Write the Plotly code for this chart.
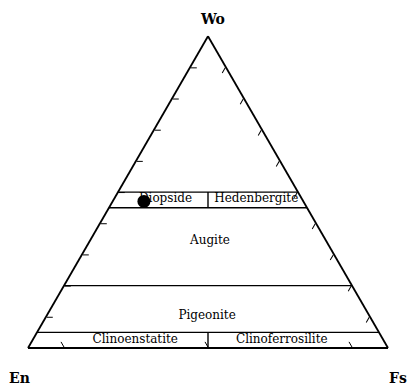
import plotly.graph_objects as go

# region boundaries (Wo, En, Fs in %)
BOUNDARY_LINES = [
    ([50, 50], [50, 0], [0, 50]),
    ([45, 45], [55, 0], [0, 55]),
    ([20, 20], [80, 0], [0, 80]),
    ([5, 5], [95, 0], [0, 95]),
    ([50, 45], [25, 27.5], [25, 27.5]),
    ([5, 0], [47.5, 50], [47.5, 50]),
]

LABELS = ["Diopside", "Hedenbergite", "Augite", "Pigeonite", "Clinoenstatite", "Clinoferrosilite"]
LABEL_WO = [47.8, 47.8, 34.3, 10.3, 2.4, 2.4]
LABEL_EN = [37.9, 12.7, 32.3, 45.1, 69.0, 28.3]
LABEL_FS = [14.3, 39.5, 33.4, 44.6, 28.6, 69.3]

SAMPLE_WO = [47.0]
SAMPLE_EN = [44.3]
SAMPLE_FS = [8.7]

SERIF = "DejaVu Serif, Liberation Serif, serif"

W, H = 410, 386

fig = go.Figure()

for wo, en, fs in BOUNDARY_LINES:
    fig.add_trace(
        go.Scatterternary(
            a=wo, b=en, c=fs, mode="lines",
            line={"color": "black", "width": 1.4},
            hoverinfo="skip", showlegend=False,
        )
    )

fig.add_trace(
    go.Scatterternary(
        a=LABEL_WO, b=LABEL_EN, c=LABEL_FS, mode="text", text=LABELS,
        textfont={"family": SERIF, "size": 12, "color": "black"},
        showlegend=False,
    )
)

fig.add_trace(
    go.Scatterternary(
        a=SAMPLE_WO, b=SAMPLE_EN, c=SAMPLE_FS, mode="markers",
        marker={"color": "black", "size": 13},
        showlegend=False,
    )
)

axis_style = dict(
    showgrid=False, showticklabels=False, ticks="inside", ticklen=6,
    tickcolor="black", tickwidth=1.3, linecolor="black", linewidth=1.8,
    title={"text": ""},
)

corner_font = {"family": SERIF, "size": 14, "color": "black"}

fig.update_layout(
    width=W,
    height=H,
    margin={"l": 0, "r": 0, "t": 0, "b": 0},
    paper_bgcolor="white",
    ternary={
        "domain": {"x": [28 / W, 388 / W], "y": [38 / H, 349.8 / H]},
        "bgcolor": "white",
        "sum": 100,
        "aaxis": {**axis_style, "tickvals": [10, 20, 30, 40, 50, 60, 70, 80, 90]},
        "baxis": {**axis_style, "tickvals": [10, 50, 90]},
        "caxis": {**axis_style, "tickvals": [10, 20, 30, 40, 50, 60, 70, 80, 90]},
    },
    annotations=[
        dict(text="<b>Wo</b>", x=212 / W, y=1 - 19 / H, font=corner_font),
        dict(text="<b>En</b>", x=19 / W, y=1 - 378 / H, font=corner_font),
        dict(text="<b>Fs</b>", x=398 / W, y=1 - 378 / H, font=corner_font),
    ],
)
fig.update_annotations(xref="paper", yref="paper", showarrow=False,
                       xanchor="center", yanchor="middle")

# drop the default 8px body margin so the figure fills the window exactly
fig.write_html(
    "out.html",
    config={"displayModeBar": False},
    post_script="document.body.style.margin = '0';",
)
